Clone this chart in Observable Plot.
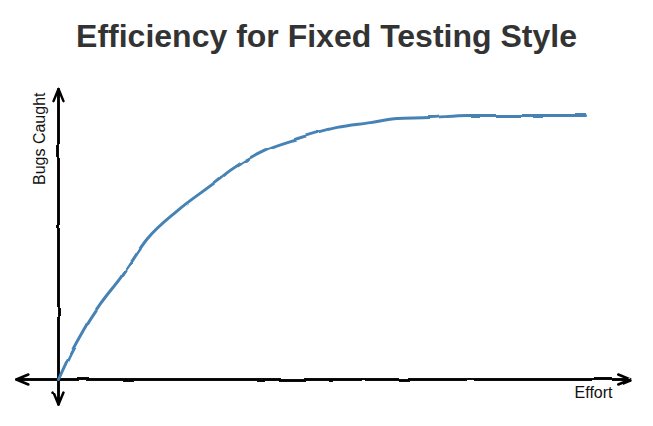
<!DOCTYPE html>
<html>
<head>
<meta charset="utf-8">
<script src="https://cdn.jsdelivr.net/npm/d3@7"></script>
<script src="https://cdn.jsdelivr.net/npm/@observablehq/plot@0.6"></script>
<style>
  html, body { margin: 0; padding: 0; background: #fff; }
  body { width: 653px; height: 426px; position: relative; overflow: hidden; font-family: "Liberation Sans", Arial, sans-serif; }
  #title { position: absolute; left: 0; width: 653px; top: 20px; margin: 0; text-align: center;
           font-size: 32px; line-height: 32px; font-weight: bold; color: #333; }
  #chart { position: absolute; left: 0; top: 70px; }
</style>
</head>
<body>
<h1 id="title"></h1>
<div id="chart"></div>
<script>
// ---- data ----
const titleText = "Efficiency for Fixed Testing Style";
const xLabel = "Effort";
const yLabel = "Bugs Caught";
const effort     = [0, 2.3, 4.7, 8.0, 11.8, 16.9, 22.6, 30.2, 32.6, 38.9, 45.4, 52.9, 59.2, 64.3, 70.6, 77.6, 100];
const bugsCaught = [0, 9.8, 18.6, 28.8, 38.6, 53.4, 64.0, 75.4, 79.2, 86.7, 91.3, 95.5, 97.3, 98.9, 99.2, 100, 100];
const xAxisExtent = [-8, 108.5];   // arrow tips of the horizontal axis (data units)
const yAxisExtent = [-9.5, 110];   // arrow tips of the vertical axis (data units)

document.getElementById("title").textContent = titleText;

const curve = effort.map((e, i) => ({effort: e, bugs: bugsCaught[i]}));
const axes = [
  {x1: xAxisExtent[0], y1: 0, x2: xAxisExtent[1], y2: 0},
  {x1: xAxisExtent[1], y1: 0, x2: xAxisExtent[0], y2: 0},
  {x1: 0, y1: yAxisExtent[0], x2: 0, y2: yAxisExtent[1]},
  {x1: 0, y1: yAxisExtent[1], x2: 0, y2: yAxisExtent[0]}
];

const plot = Plot.plot({
  width: 653,
  height: 356,
  marginLeft: 58,
  marginRight: 68,
  marginTop: 45,
  marginBottom: 47,
  style: {fontFamily: "'Liberation Sans', Arial, sans-serif", background: "#fff", overflow: "visible"},
  x: {domain: [0, 100], axis: null},
  y: {domain: [0, 100], axis: null},
  marks: [
    Plot.arrow(axes, {x1: "x1", y1: "y1", x2: "x2", y2: "y2", stroke: "#000", strokeWidth: 2.5,
      headAngle: 45, headLength: 7.8}),
    Plot.line(curve, {x: "effort", y: "bugs", stroke: "#4682b4", strokeWidth: 3, curve: "monotone-x"}),
    Plot.text([yLabel], {text: d => d, frameAnchor: "top-left", rotate: -90, textAnchor: "end",
      lineAnchor: "bottom", dx: -14, dy: -23, fontSize: 16, fill: "#111"}),
    Plot.text([xLabel], {text: d => d, frameAnchor: "bottom-right", textAnchor: "end",
      lineAnchor: "bottom", dx: 27, dy: 18, fontSize: 16, fill: "#111"})
  ]
});

// hand-drawn wobble
const ns = "http://www.w3.org/2000/svg";
const defs = document.createElementNS(ns, "defs");
defs.innerHTML = `<filter id="wobble" filterUnits="userSpaceOnUse" x="-50" y="-50" width="760" height="460">
  <feTurbulence type="fractalNoise" baseFrequency="0.03" numOctaves="2" seed="3" result="n"/>
  <feDisplacementMap in="SourceGraphic" in2="n" scale="3" xChannelSelector="R" yChannelSelector="G"/>
</filter>`;
plot.insertBefore(defs, plot.firstChild);
plot.querySelectorAll('g[aria-label="arrow"], g[aria-label="line"]').forEach(g => g.setAttribute("filter", "url(#wobble)"));

document.getElementById("chart").appendChild(plot);
</script>
</body>
</html>
